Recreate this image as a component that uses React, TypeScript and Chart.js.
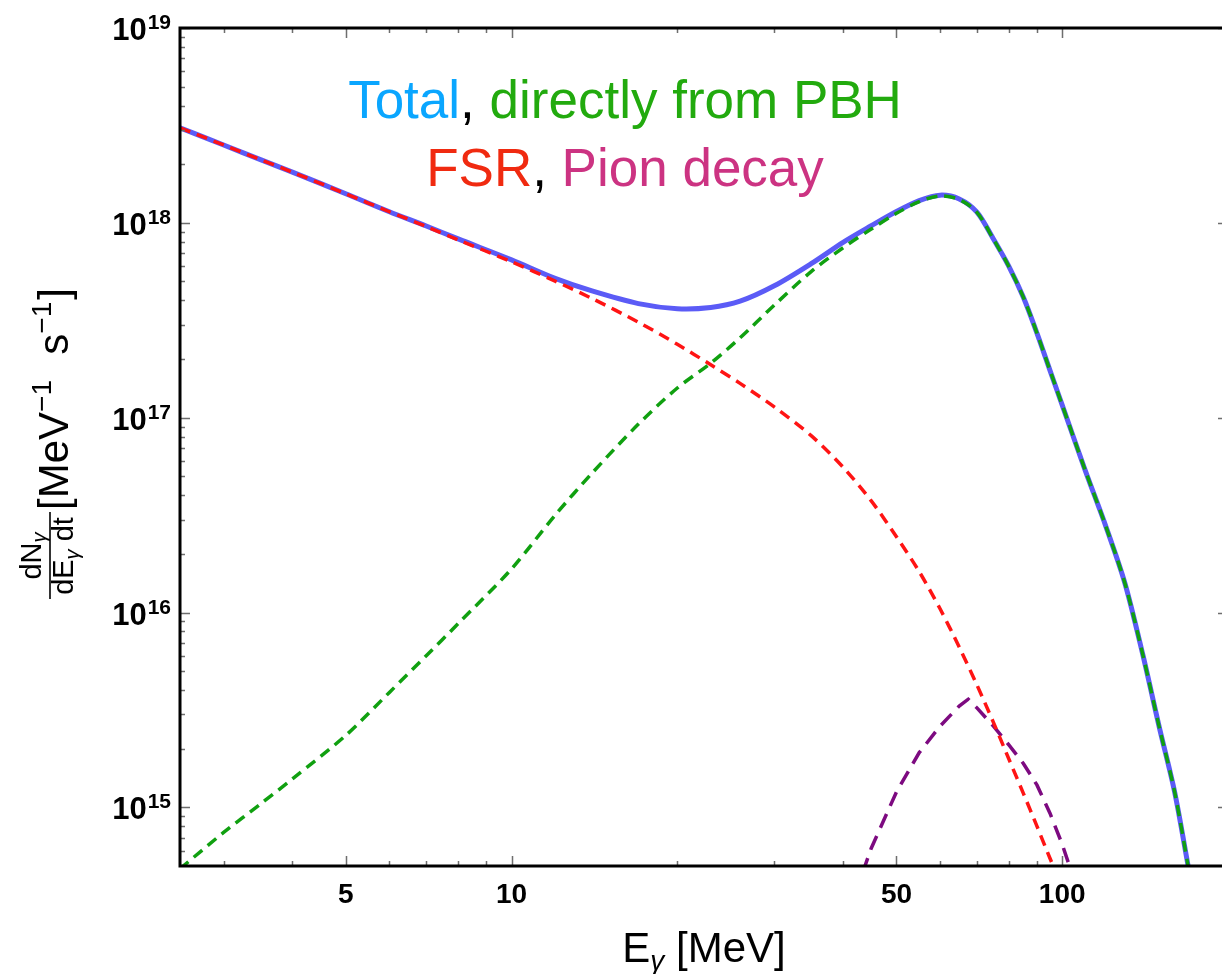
import React, { useEffect, useRef } from "react";
import { Chart, registerables } from "chart.js";
Chart.register(...registerables);

// Photon energy grid (MeV)
const energies = [2.5, 3, 3.5, 4, 5, 6, 7, 8, 10, 12, 14, 17, 20, 23, 26, 30, 35, 40, 45, 50, 55, 60, 65, 70, 75, 80, 85, 90, 95, 100, 110, 120, 130, 140, 150, 160, 170, 180];

// Total spectrum
const totalFlux = [3.07e18, 2.51e18, 2.11e18, 1.82e18, 1.41e18, 1.14e18, 9.63e17, 8.27e17, 6.46e17, 5.19e17, 4.47e17, 3.85e17, 3.625e17, 3.68e17, 3.96e17, 4.75e17, 6.17e17, 7.94e17, 9.66e17, 1.143e18, 1.3e18, 1.387e18, 1.327e18, 1.135e18, 8.26e17, 5.98e17, 4.15e17, 2.71e17, 1.75e17, 1.16e17, 5.4e16, 2.77e16, 1.41e16, 6.11e15, 2.59e15, 1.2e15, 4.68e14, 1.95e14];

// Directly from PBH
const directFlux = [4.84e14, 7.43e14, 1.04e15, 1.4e15, 2.34e15, 3.89e15, 6.0e15, 8.77e15, 1.675e16, 3.16e16, 5.19e16, 9.27e16, 1.42e17, 1.905e17, 2.57e17, 3.78e17, 5.62e17, 7.45e17, 9.29e17, 1.119e18, 1.285e18, 1.374e18, 1.318e18, 1.132e18, 8.24e17, 5.97e17, 4.15e17, 2.71e17, 1.75e17, 1.16e17, 5.4e16, 2.77e16, 1.41e16, 6.11e15, 2.59e15, 1.2e15, 4.68e14, 1.95e14];

// FSR
const fsrEnergies = [2.5, 3, 3.5, 4, 5, 6, 7, 8, 10, 12, 14, 17, 20, 23, 26, 30, 35, 40, 45, 50, 55, 60, 65, 70, 75, 80, 85, 90, 95, 100];
const fsrFlux = [3.07e18, 2.51e18, 2.11e18, 1.82e18, 1.41e18, 1.14e18, 9.57e17, 8.18e17, 6.31e17, 5.02e17, 4.09e17, 3.09e17, 2.38e17, 1.87e17, 1.5e17, 1.135e17, 8.09e16, 5.57e16, 3.74e16, 2.45e16, 1.62e16, 1.045e16, 6.65e15, 4.25e15, 2.73e15, 1.77e15, 1.18e15, 7.98e14, 5.48e14, 3.88e14];

// Pion decay
const pionEnergies = [42, 45, 50, 55, 60, 65, 67.5, 70, 75, 80, 85, 90, 95, 100, 105];
const pionFlux = [3.55e14, 6.17e14, 1.2e15, 1.91e15, 2.61e15, 3.31e15, 3.59e15, 3.24e15, 2.61e15, 2.09e15, 1.68e15, 1.3e15, 9.33e14, 6.46e14, 4.27e14];

// Axes
const xMin = 2.5;
const xMax = 200;
const yMin = 5e14;
const yMax = 1e19;
const xMajorTicks = [5, 10, 50, 100];
const xTickLabels = ["5", "10", "50", "100"];
const xMinorTicks = [3, 4, 6, 7, 8, 9, 20, 30, 40, 60, 70, 80, 90, 200];
const yMajorTicks = [1e15, 1e16, 1e17, 1e18, 1e19];
const yTickExponents = ["15", "16", "17", "18", "19"];
const yMinorMultipliers = [2, 3, 4, 5, 6, 7, 8, 9];
const yMinorDecades = [1e14, 1e15, 1e16, 1e17, 1e18];

const FONT = '"Liberation Sans", Arial, Helvetica, sans-serif';

const pts = (xs: number[], ys: number[]) => xs.map((x, i) => ({ x, y: ys[i] }));

const decorPlugin = {
  id: "decor",
  afterDraw(chart: any) {
    const ctx: CanvasRenderingContext2D = chart.ctx;
    const xs = chart.scales.x;
    const ys = chart.scales.y;
    const { left, right, top, bottom } = chart.chartArea;
    ctx.save();

    // ticks (inward, all four sides)
    ctx.strokeStyle = "#6e6e6e";
    ctx.lineWidth = 1.5;
    const major = 10;
    const minor = 5;
    const vt = (v: number, len: number) => {
      const p = Math.round(xs.getPixelForValue(v)) + 0.5;
      if (p < left || p > right + 1) return;
      ctx.beginPath();
      ctx.moveTo(p, bottom);
      ctx.lineTo(p, bottom - len);
      ctx.moveTo(p, top);
      ctx.lineTo(p, top + len);
      ctx.stroke();
    };
    const ht = (v: number, len: number) => {
      const p = Math.round(ys.getPixelForValue(v)) + 0.5;
      if (p < top - 1 || p > bottom) return;
      ctx.beginPath();
      ctx.moveTo(left, p);
      ctx.lineTo(left + len, p);
      ctx.moveTo(right, p);
      ctx.lineTo(right - len, p);
      ctx.stroke();
    };
    xMajorTicks.forEach((v) => vt(v, major));
    xMinorTicks.forEach((v) => vt(v, minor));
    yMajorTicks.forEach((v) => ht(v, major));
    yMinorDecades.forEach((d) => yMinorMultipliers.forEach((m) => {
      const v = d * m;
      if (v >= yMin && v <= yMax) ht(v, minor);
    }));

    // frame
    ctx.strokeStyle = "#000";
    ctx.lineWidth = 3;
    ctx.strokeRect(left, top, right - left, bottom - top);

    // x tick labels
    ctx.fillStyle = "#000";
    ctx.font = `bold 28px ${FONT}`;
    ctx.textAlign = "center";
    ctx.textBaseline = "alphabetic";
    xMajorTicks.forEach((v, i) => {
      ctx.fillText(xTickLabels[i], xs.getPixelForValue(v), 903);
    });

    // y tick labels 10^n
    yMajorTicks.forEach((v, i) => {
      const p = ys.getPixelForValue(v);
      ctx.font = `bold 21px ${FONT}`;
      const we = ctx.measureText(yTickExponents[i]).width;
      ctx.textAlign = "right";
      ctx.fillText(yTickExponents[i], 171, p + 1);
      ctx.font = `bold 31px ${FONT}`;
      ctx.fillText("10", 171 - we - 1, p + 12);
    });

    // x title: E_γ [MeV]
    ctx.textAlign = "left";
    ctx.font = `42px ${FONT}`;
    const wE = ctx.measureText("E").width;
    ctx.font = `italic 28px ${FONT}`;
    const wG = ctx.measureText("γ").width;
    ctx.font = `42px ${FONT}`;
    const wR = ctx.measureText(" [MeV]").width;
    const total = wE + wG + wR;
    let xx = (left + right) / 2 - total / 2;
    const by = 962;
    ctx.fillText("E", xx, by);
    xx += wE;
    ctx.font = `italic 28px ${FONT}`;
    ctx.fillText("γ", xx, by + 8);
    xx += wG;
    ctx.font = `42px ${FONT}`;
    ctx.fillText(" [MeV]", xx, by);

    // y title (rotated)
    ctx.save();
    ctx.rotate(-Math.PI / 2);
    // screen (X, Y) = (v, -u)
    const fracCenter = -556;
    ctx.font = `29px ${FONT}`;
    const wdN = ctx.measureText("dN").width;
    ctx.font = `italic 20px ${FONT}`;
    const wg = ctx.measureText("γ").width;
    let u = fracCenter - (wdN + wg) / 2;
    ctx.font = `29px ${FONT}`;
    ctx.fillText("dN", u, 41);
    ctx.font = `italic 20px ${FONT}`;
    ctx.fillText("γ", u + wdN, 46);
    ctx.lineWidth = 1.6;
    ctx.beginPath();
    ctx.moveTo(-599, 50);
    ctx.lineTo(-512, 50);
    ctx.stroke();
    ctx.font = `29px ${FONT}`;
    const wdE = ctx.measureText("dE").width;
    const wdt = ctx.measureText(" dt").width;
    u = fracCenter - (wdE + wg + wdt) / 2;
    ctx.fillText("dE", u, 73);
    ctx.font = `italic 20px ${FONT}`;
    ctx.fillText("γ", u + wdE, 79);
    ctx.font = `29px ${FONT}`;
    ctx.fillText(" dt", u + wdE + wg, 73);
    let uu = -510;
    const base = 68;
    const parts: [string, boolean][] = [["[MeV", false], ["−1", true], ["  s", false], ["−1", true], ["]", false]];
    parts.forEach(([t, sup]) => {
      ctx.font = sup ? `28px ${FONT}` : `42px ${FONT}`;
      ctx.fillText(t, uu, sup ? base - 17 : base);
      uu += ctx.measureText(t).width + (sup ? 2 : 0);
    });
    ctx.restore();

    // legend text
    const drawLine = (segs: [string, string][], y: number) => {
      ctx.font = `53px ${FONT}`;
      ctx.textAlign = "left";
      const w = segs.reduce((s, [t]) => s + ctx.measureText(t).width, 0);
      let x0 = 625 - w / 2;
      segs.forEach(([t, c]) => {
        ctx.fillStyle = c;
        ctx.fillText(t, x0, y);
        x0 += ctx.measureText(t).width;
      });
    };
    drawLine([["Total", "#0aa6ff"], [", ", "#000"], ["directly from PBH", "#22aa0e"]], 118);
    drawLine([["FSR", "#f02a10"], [", ", "#000"], ["Pion decay", "#cc3382"]], 186);

    ctx.restore();
  },
};

export default function App() {
  const ref = useRef<HTMLCanvasElement | null>(null);
  useEffect(() => {
    if (!ref.current) return;
    const chart = new Chart(ref.current, {
      type: "line",
      data: {
        datasets: [
          {
            label: "Total",
            data: pts(energies, totalFlux),
            borderColor: "#5b5bf6",
            borderWidth: 5,
            pointRadius: 0,
            tension: 0.3,
            fill: false,
            order: 10,
            clip: 0,
          },
          {
            label: "Pion decay",
            data: pts(pionEnergies, pionFlux),
            borderColor: "#7d0a80",
            borderWidth: 3.5,
            borderDash: [15, 9],
            pointRadius: 0,
            tension: 0,
            fill: false,
            order: 3,
            clip: 0,
          },
          {
            label: "FSR",
            data: pts(fsrEnergies, fsrFlux),
            borderColor: "#ff1414",
            borderWidth: 3.5,
            borderDash: [11, 7],
            pointRadius: 0,
            tension: 0.3,
            fill: false,
            order: 1,
            clip: 0,
          },
          {
            label: "directly from PBH",
            data: pts(energies, directFlux),
            borderColor: "#10a010",
            borderWidth: 3.5,
            borderDash: [11, 7],
            pointRadius: 0,
            tension: 0.3,
            fill: false,
            order: 2,
            clip: 0,
          },
        ],
      },
      options: {
        responsive: false,
        animation: false,
        events: [],
        layout: { padding: { left: 180, right: 4, top: 28, bottom: 108 } },
        plugins: { legend: { display: false }, tooltip: { enabled: false }, title: { display: false } },
        scales: {
          x: { type: "logarithmic", min: xMin, max: xMax, display: false },
          y: { type: "logarithmic", min: yMin, max: yMax, display: false },
        },
      },
      plugins: [decorPlugin],
    } as any);
    return () => chart.destroy();
  }, []);
  return (
    <div style={{ position: "fixed", left: 0, top: 0, width: 1222, height: 974, overflow: "hidden", background: "#fff" }}>
      <canvas ref={ref} width={1232} height={974} style={{ width: 1232, height: 974, display: "block" }} />
    </div>
  );
}
